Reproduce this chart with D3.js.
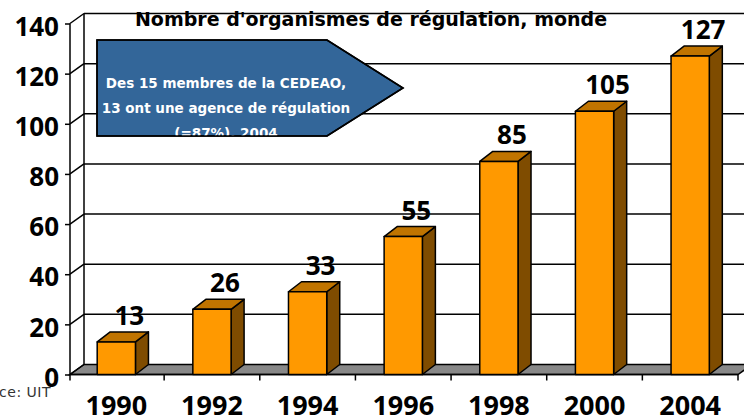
<!DOCTYPE html>
<html><head><meta charset="utf-8">
<script src="https://cdn.jsdelivr.net/npm/d3@7"></script>
<style>body{margin:0;background:#fff}svg{display:block}</style>
</head><body>
<svg id="c" width="744" height="419"></svg>
<script>
const categories = ["1990","1992","1994","1996","1998","2000","2004"];
const values = [13,26,33,55,85,105,127];
const yTicks = [0,20,40,60,80,100,120,140];
const title = "Nombre d'organismes de régulation, monde";
const calloutLines = ["Des 15 membres de la CEDEAO,","13 ont une agence de régulation","(=87%), 2004"];
const sourceText = "Source: UIT";

const svg = d3.select("#c");
const DX = 14, DY = -10, BDX = 13, BDY = -10;
const x = d3.scaleBand().domain(categories).range([68.5, 738]).padding(0);
const y = d3.scaleLinear().domain([0,140]).range([374.5, 23.5]);
const x0 = 70, xR = 744;

// floor
const yb = y(0);
svg.append("path")
  .attr("d", `M${x0},${yb}L738,${yb}L${738+DX},${yb+DY}L${x0+DX},${yb+DY}Z`)
  .attr("fill","#888").attr("stroke","#000").attr("stroke-width",1.5);

// back wall gridlines + left wall diagonals
const g = svg.append("g").attr("stroke","#000").attr("stroke-width",1.5).attr("fill","none");
yTicks.forEach(t => {
  const yy = y(t);
  if (t > 0) g.append("line").attr("x1",x0+DX).attr("x2",xR).attr("y1",yy+DY).attr("y2",yy+DY);
  g.append("line").attr("x1",x0).attr("x2",x0+DX).attr("y1",yy).attr("y2",yy+DY);
});
g.append("line").attr("x1",x0+DX).attr("x2",x0+DX).attr("y1",y(140)+DY).attr("y2",y(0)+DY);

// y axis
const yAxis = d3.axisLeft(y).tickValues(yTicks).tickSize(5).tickPadding(6).tickSizeOuter(0);
const ya = svg.append("g").attr("transform",`translate(${x0},0)`).call(yAxis);
ya.select(".domain").remove();
ya.selectAll(".tick line").attr("stroke","#000").attr("stroke-width",1.5);
ya.selectAll(".tick text").attr("font-family","'Open Sans'").attr("font-weight","bold")
  .attr("font-size",26).attr("fill","#000").attr("dy","0.45em");
svg.append("line").attr("x1",x0).attr("x2",x0).attr("y1",y(140)).attr("y2",y(0)+6)
  .attr("stroke","#000").attr("stroke-width",1.5);

// x axis line and boundary ticks
svg.append("line").attr("x1",x0).attr("x2",738).attr("y1",yb).attr("y2",yb)
  .attr("stroke","#000").attr("stroke-width",1.5);
categories.forEach(c => {
  const bx = x(c) + x.bandwidth();
  svg.append("line").attr("x1",bx).attr("x2",bx).attr("y1",yb).attr("y2",yb+6)
    .attr("stroke","#000").attr("stroke-width",1.5);
});
const xAxis = d3.axisBottom(x).tickSize(0).tickPadding(0);
const xa = svg.append("g").attr("transform",`translate(0,${yb})`).call(xAxis);
xa.select(".domain").remove();
xa.selectAll(".tick text").attr("font-family","'Open Sans'").attr("font-weight","bold")
  .attr("font-size",27).attr("fill","#000").attr("dy",null).attr("y",40);

// title
svg.append("text").attr("x",371).attr("y",26).attr("text-anchor","middle")
  .attr("font-family","'DejaVu Sans'").attr("font-weight","bold").attr("font-size",19)
  .attr("fill","#000").text(title);

// bars
const bw = x.bandwidth()*0.4;
const bars = svg.append("g");
categories.forEach((c,i) => {
  const v = values[i];
  const cx = x(c) + x.bandwidth()/2;
  const l = cx - bw/2, r = cx + bw/2, t = y(v), b = y(0);
  const s = bars.append("g").attr("stroke","#000").attr("stroke-width",1.5).attr("stroke-linejoin","round");
  s.append("path").attr("d",`M${r},${t}L${r+BDX},${t+BDY}L${r+BDX},${b+BDY}L${r},${b}Z`).attr("fill","#7f4c00");
  s.append("path").attr("d",`M${l},${t}L${l+BDX},${t+BDY}L${r+BDX},${t+BDY}L${r},${t}Z`).attr("fill","#c07400");
  s.append("rect").attr("x",l).attr("y",t).attr("width",bw).attr("height",b-t).attr("fill","#ff9900");
  svg.append("text").attr("x",cx+13).attr("y",t+BDY-7).attr("text-anchor","middle")
    .attr("font-family","'Open Sans'").attr("font-weight","bold").attr("font-size",26)
    .attr("fill","#000").text(v);
});

// callout
const cp = [[97,40],[327,40],[403,88],[327,136],[97,136]];
svg.append("defs").append("clipPath").attr("id","cc").append("polygon")
  .attr("points", cp.map(p=>p.join(",")).join(" "));
svg.append("polygon").attr("points", cp.map(p=>p.join(",")).join(" "))
  .attr("fill","#336699").attr("stroke","#000").attr("stroke-width",1.5);
const ct = svg.append("g").attr("clip-path","url(#cc)");
calloutLines.forEach((ln,i) => {
  ct.append("text").attr("x",226).attr("y",88+i*25).attr("text-anchor","middle")
    .attr("font-family","'DejaVu Sans'").attr("font-weight","bold").attr("font-size",13.5)
    .attr("fill","#fff").text(ln);
});
svg.append("polygon").attr("points", cp.map(p=>p.join(",")).join(" "))
  .attr("fill","none").attr("stroke","#000").attr("stroke-width",1.5);

// source
svg.append("text").attr("x",51).attr("y",397).attr("text-anchor","end")
  .attr("font-family","'DejaVu Sans'").attr("font-size",14).attr("letter-spacing",0.5)
  .attr("fill","#333").text(sourceText);
</script>
</body></html>
